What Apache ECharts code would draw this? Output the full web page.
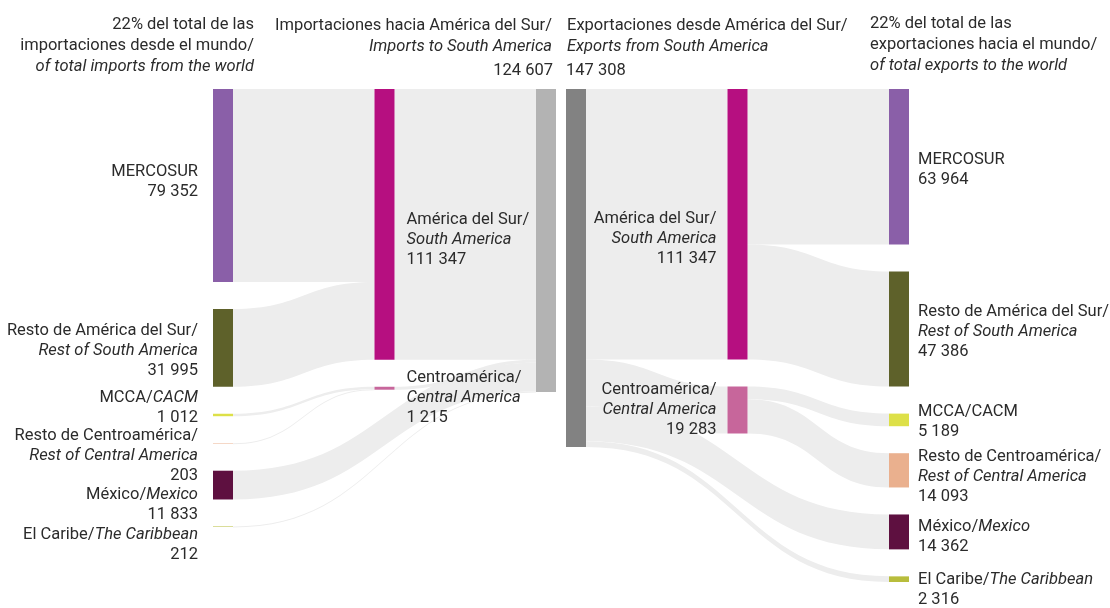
<!DOCTYPE html>
<html>
<head>
<meta charset="utf-8">
<script src="https://cdn.jsdelivr.net/npm/echarts@6/dist/echarts.min.js"></script>
<style>
html, body { margin: 0; padding: 0; background: #fff; }
#main { width: 1110px; height: 608px; }
</style>
</head>
<body>
<div id="main"></div>
<script>
var regions = ['MERCOSUR', 'Resto de América del Sur', 'MCCA', 'Resto de Centroamérica', 'México', 'El Caribe'];
var importLabels = ['MERCOSUR', 'Resto de América del Sur/\n{i|Rest of South America}', 'MCCA/{i|CACM}',
    'Resto de Centroamérica/\n{i|Rest of Central America}', 'México/{i|Mexico}', 'El Caribe/{i|The Caribbean}'];
var exportLabels = ['MERCOSUR', 'Resto de América del Sur/\n{i|Rest of South America}', 'MCCA/CACM',
    'Resto de Centroamérica/\n{i|Rest of Central America}', 'México/{i|Mexico}', 'El Caribe/{i|The Caribbean}'];
var importValues = [79352, 31995, 1012, 203, 11833, 212];
var exportValues = [63964, 47386, 5189, 14093, 14362, 2316];
// group each region flows through (-1 = straight to the total)
var regionGroup = [0, 0, 1, 1, -1, -1];

var groups = ['América del Sur', 'Centroamérica'];
var groupLabels = ['América del Sur/\n{i|South America}', 'Centroamérica/\n{i|Central America}'];
var importGroupValues = [111347, 1215];
var exportGroupValues = [111347, 19283];

var importTotal = 124607;
var exportTotal = 147308;

var regionColors = ['#8a5fa8', '#5e612a', '#dde048', '#eab08e', '#5e1040', '#b8bd3c'];
var groupColors = ['#b60f80', '#c7669b'];

// small vertical nudges of the labels, as in the original
var importLabelDy = [-4, 3, -7, 12, 20, 18];
var exportLabelDy = [3, 3, 2, 7, 5, 11];
var importGroupDy = [15, 10];
var exportGroupDy = [15, 0];

var FONT = 'Roboto, "Liberation Sans", sans-serif';
var FS = 16.5;
var INK = '#2b2b2b';

function fmt(v) {
    return String(v).replace(/\B(?=(\d{3})+(?!\d))/g, ' ');
}

var rich = { i: { fontStyle: 'italic', fontFamily: FONT, fontSize: FS, lineHeight: 20, color: INK } };

// ---- imports ----
var impNodes = [], impLinks = [];
regions.forEach(function (r, i) {
    impNodes.push({
        name: r, depth: 0, itemStyle: { color: regionColors[i] },
        label: { position: 'left', distance: 15, offset: [0, importLabelDy[i]],
            formatter: importLabels[i] + '\n' + fmt(importValues[i]) }
    });
});
groups.forEach(function (g, j) {
    impNodes.push({
        name: g, depth: 1, itemStyle: { color: groupColors[j] },
        label: { position: 'right', distance: 12, offset: [0, importGroupDy[j]],
            formatter: groupLabels[j] + '\n' + fmt(importGroupValues[j]) }
    });
});
impNodes.push({
    name: 'Importaciones', depth: 2, itemStyle: { color: '#b3b3b3' },
    label: { position: [17, -8], align: 'right', verticalAlign: 'bottom', formatter: fmt(importTotal) }
});
regions.forEach(function (r, i) {
    impLinks.push({ source: r, target: regionGroup[i] < 0 ? 'Importaciones' : groups[regionGroup[i]], value: importValues[i] });
});
groups.forEach(function (g, j) {
    impLinks.push({ source: g, target: 'Importaciones', value: importGroupValues[j] });
});

// ---- exports ----
var expNodes = [], expLinks = [];
expNodes.push({
    name: 'Exportaciones', depth: 0, itemStyle: { color: '#828282' },
    label: { position: [0, -8], align: 'left', verticalAlign: 'bottom', formatter: fmt(exportTotal) }
});
groups.forEach(function (g, j) {
    expNodes.push({
        name: g, depth: 1, itemStyle: { color: groupColors[j] },
        label: { position: 'left', distance: 11, offset: [0, exportGroupDy[j]],
            formatter: groupLabels[j] + '\n' + fmt(exportGroupValues[j]) }
    });
});
regions.forEach(function (r, i) {
    expNodes.push({
        name: r, depth: 2, itemStyle: { color: regionColors[i] },
        label: { position: 'right', distance: 9, offset: [0, exportLabelDy[i]],
            formatter: exportLabels[i] + '\n' + fmt(exportValues[i]) }
    });
});
groups.forEach(function (g, j) {
    expLinks.push({ source: 'Exportaciones', target: g, value: exportGroupValues[j] });
});
regions.forEach(function (r, i) {
    expLinks.push({ source: regionGroup[i] < 0 ? 'Exportaciones' : groups[regionGroup[i]], target: r, value: exportValues[i] });
});

var common = {
    type: 'sankey',
    nodeAlign: 'left',
    layoutIterations: 0,
    nodeWidth: 20,
    nodeGap: 27,
    draggable: false,
    silent: true,
    emphasis: { disabled: true },
    label: { show: true, color: INK, fontFamily: FONT, fontSize: FS, lineHeight: 20, rich: rich },
    lineStyle: { color: '#ededed', opacity: 1, curveness: 0.5 },
    itemStyle: { borderWidth: 0 }
};

function header(x, y, align, text) {
    return {
        type: 'text', x: x, y: y, silent: true,
        style: {
            text: text, align: align, verticalAlign: 'top', fill: INK,
            fontFamily: FONT, fontSize: FS, lineHeight: 21,
            rich: { i: { fontStyle: 'italic', fontFamily: FONT, fontSize: FS, lineHeight: 21, fill: INK } }
        }
    };
}

var myChart = echarts.init(document.getElementById('main'));
myChart.setOption({
    animation: false,
    graphic: [
        header(254, 14, 'right', '22% del total de las\nimportaciones desde el mundo/\n{i|of total imports from the world}'),
        header(552, 15, 'right', 'Importaciones hacia América del Sur/\n{i|Imports to South America}'),
        header(567, 15, 'left', 'Exportaciones desde América del Sur/\n{i|Exports from South America}'),
        header(870, 13, 'left', '22% del total de las\nexportaciones hacia el mundo/\n{i|of total exports to the world}')
    ],
    series: [
        Object.assign({}, common, { left: 213, top: 89, width: 343, height: 438, data: impNodes, links: impLinks }),
        Object.assign({}, common, { left: 566, top: 89, width: 343, height: 493, data: expNodes, links: expLinks })
    ]
});
</script>
</body>
</html>
